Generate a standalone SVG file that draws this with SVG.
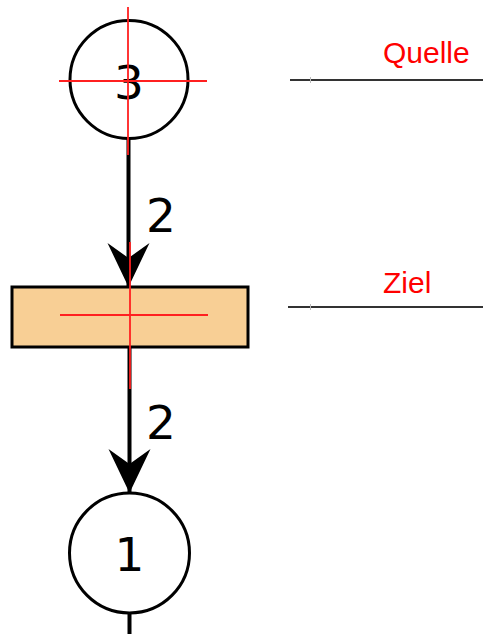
<svg xmlns="http://www.w3.org/2000/svg" width="483" height="634" viewBox="0 0 483 634">
  <style>
    .place { fill: #ffffff; stroke: #000000; stroke-width: 3; }
    .trans { fill: #f8cf95; stroke: #000000; stroke-width: 3; }
    .arc { fill: none; stroke: #000000; stroke-width: 4; }
    .num { font-family: "DejaVu Sans", sans-serif; font-size: 47px; fill: #000000; text-anchor: middle; }
    .guide { stroke: #ff2020; stroke-width: 1.8; fill: none; }
    .lbl { font-family: "Liberation Sans", Arial, sans-serif; font-size: 30px; fill: #ff0000; }
    .rule { stroke: #333333; stroke-width: 2; }
    .tick { stroke: #bbbbbb; stroke-width: 1; }
  </style>
  <defs>
    <!-- arrowhead drawn along +x so orient="auto" points it down the arc -->
    <marker id="head" markerUnits="userSpaceOnUse" markerWidth="48" markerHeight="44" refX="44" refY="21" orient="auto" viewBox="0 0 48 42">
      <path d="M0,0 L15,21 L0,42 L44,21 Z" fill="#000000"/>
    </marker>
  </defs>

  <g id="connectors">
    <line class="arc" x1="128.5" y1="81" x2="128.5" y2="287" marker-end="url(#head)"/>
    <line class="arc" x1="128.5" y1="287" x2="128.5" y2="314"/>
    <text class="num" x="161" y="232">2</text>
    <line class="arc" x1="129.5" y1="347" x2="129.5" y2="493" marker-end="url(#head)"/>
    <text class="num" x="161" y="439">2</text>
    <line class="arc" x1="129.5" y1="613" x2="129.5" y2="634"/>
  </g>

  <g id="place-3">
    <circle class="place" cx="129" cy="79.5" r="59"/>
    <text class="num" x="129" y="99">3</text>
  </g>

  <g id="transition">
    <rect class="trans" x="12" y="287" width="236" height="60"/>
  </g>

  <g id="place-1">
    <circle class="place" cx="129.5" cy="553" r="60"/>
    <text class="num" x="129.5" y="571">1</text>
  </g>

  <!-- alignment crosses -->
  <g id="guides">
    <line class="guide" x1="128" y1="7" x2="128" y2="155"/>
    <line class="guide" x1="59" y1="81" x2="207" y2="81"/>
    <line class="guide" x1="130" y1="242" x2="130" y2="389"/>
    <line class="guide" x1="60" y1="315" x2="208" y2="315"/>
  </g>

  <g id="label-quelle">
    <line class="rule" x1="290" y1="80" x2="483" y2="80"/>
    <line class="tick" x1="310.5" y1="77" x2="310.5" y2="83"/>
    <text class="lbl" x="383" y="63">Quelle</text>
  </g>

  <g id="label-ziel">
    <line class="rule" x1="288" y1="307" x2="483" y2="307"/>
    <line class="tick" x1="310.5" y1="304" x2="310.5" y2="310"/>
    <text class="lbl" x="383" y="293">Ziel</text>
  </g>
</svg>
